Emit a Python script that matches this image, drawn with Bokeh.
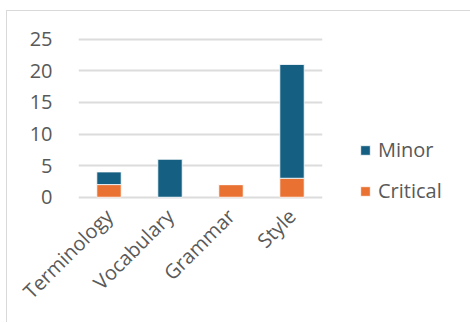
from bokeh.plotting import figure
from bokeh.models import Range1d, FactorRange, Legend, LegendItem, FixedTicker
from bokeh.embed import file_html
from bokeh.resources import INLINE
import math

categories = ["Terminology", "Vocabulary", "Grammar", "Style"]
critical = [2, 0, 2, 3]
minor = [2, 6, 0, 18]
series = ["Critical", "Minor"]
colors = ["#E97132", "#156082"]
y_ticks = [0, 5, 10, 15, 20, 25]

data = dict(cat=categories, Critical=critical, Minor=minor)

FONT = "Open Sans"
GRAY = "#595959"

p = figure(frame_width=244, frame_height=162,
           x_range=FactorRange(*categories, range_padding=0),
           y_range=Range1d(-0.36, 25.27), output_backend="svg", toolbar_location=None,
           min_border_left=71, min_border_right=148, min_border_top=26, min_border_bottom=124)
p.margin = (11, 0, 0, 7)
p.styles = {"box-shadow": "-1px -1px 0 0 #d9d9d9"}
p.outline_line_color = None
p.background_fill_color = "white"
p.border_fill_color = "white"

rs = p.vbar_stack(series, x="cat", width=0.4, source=data, color=colors,
                  line_color="white", line_width=0.8)

p.xgrid.grid_line_color = None
p.ygrid.grid_line_color = "#dcdcdc"
p.ygrid.grid_line_width = 2
p.yaxis.ticker = FixedTicker(ticks=y_ticks)

for ax in (p.xaxis[0], p.yaxis[0]):
    ax.axis_line_color = None
    ax.major_tick_line_color = None
    ax.minor_tick_line_color = None
    ax.major_label_text_font = FONT
    ax.major_label_text_font_size = "20px"
    ax.major_label_text_color = GRAY

p.yaxis.major_label_standoff = 20
p.xaxis.major_label_orientation = math.pi / 4
p.xaxis.major_label_standoff = 7

legend = Legend(items=[LegendItem(label="Minor", renderers=[rs[1]]),
                       LegendItem(label="Critical", renderers=[rs[0]])],
                location=(37, -5), orientation="vertical",
                label_text_font=FONT, label_text_font_size="20px", label_text_color=GRAY,
                glyph_width=12, glyph_height=12, label_standoff=7, spacing=14,
                label_height=21, padding=0, margin=0, border_line_color=None,
                background_fill_alpha=0)
p.add_layout(legend, "right")

open("out.html", "w").write(file_html(p, INLINE))
